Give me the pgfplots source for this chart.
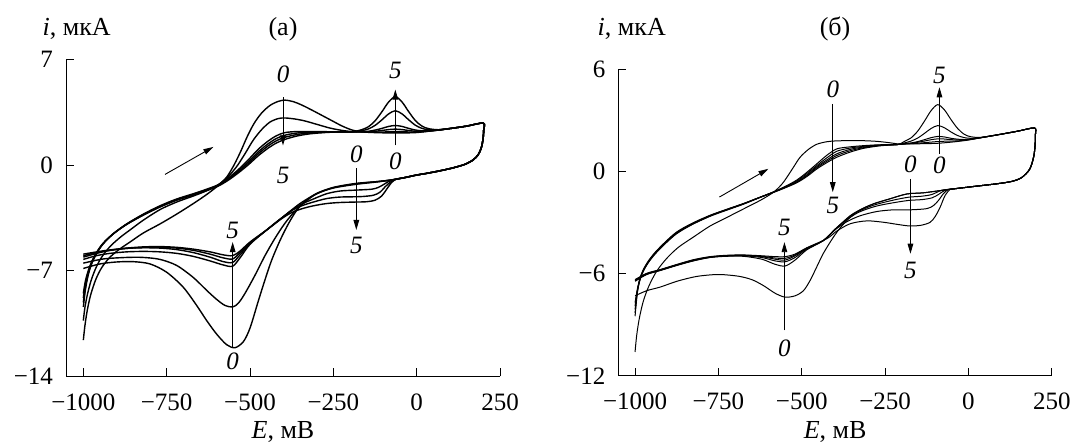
\documentclass[border=0pt]{standalone}
\usepackage{fontspec}
\setmainfont{Liberation Serif}
\usepackage{pgfplots}
\pgfplotsset{compat=1.18}
\usetikzlibrary{arrows.meta}

\pgfplotsset{
  cv/.style={
    scale only axis,
    axis x line=bottom, axis y line=left,
    axis line style={-, line width=0.5pt},
    tick align=inside,
    major tick length=4pt,
    tick style={line width=0.5pt, black},
    xtick={-1000,-750,-500,-250,0,250},
    xticklabels={−1000,−750,−500,−250,0,250},
    tick label style={font=\fontsize{12.5}{14}\selectfont},
    xticklabel style={yshift=-5pt},
    yticklabel style={xshift=-3pt},
    clip=false,
    cycle list={{black, mark=none, solid}},
    every axis plot/.append style={smooth, tension=0.5, line join=round},
  },
}
\tikzset{
  lab/.style={font=\fontsize{12.5}{14}\selectfont\itshape, inner sep=0pt},
  arr/.style={-{Triangle[length=5pt,width=2.8pt]}, line width=0.45pt},
  txt/.style={font=\fontsize{13}{15}\selectfont},
}

\begin{document}
\begin{tikzpicture}
\useasboundingbox (0,0) rectangle (536pt,221.5pt);

% ---------- (a) ----------
\begin{axis}[cv, at={(33pt,33.3pt)}, anchor=south west,
  width=217pt, height=158.5pt,
  xmin=-1052, xmax=250, ymin=-14, ymax=7,
  ytick={-14,-7,0,7}, yticklabels={−14,−7,0,7},
  every axis plot/.append style={line width=0.7pt}]

% curve 0
\addplot coordinates {(-1000,-11.6) (-995,-10.6) (-988,-9.6) (-978,-8.6) (-963,-7.6) (-945,-6.8) (-920,-6.1) (-890,-5.55) (-860,-5.1) (-820,-4.5) (-770,-3.9) (-720,-3.25) (-670,-2.55) (-630,-1.95) (-595,-1.35) (-570,-0.8) (-548,0.0) (-528,0.9) (-508,1.9) (-488,2.75) (-465,3.45) (-440,3.95) (-415,4.22) (-395,4.3) (-370,4.2) (-345,3.98) (-315,3.65) (-285,3.3) (-255,2.95) (-225,2.6) (-195,2.33) (-165,2.2) (-124,2.15) (-84,2.13) (-44,2.13) (-4,2.15) (36,2.24) (66,2.32) (100,2.42) (150,2.58)
 (200,2.78) (201,2.3) (199,1.7) (194,1.15) (185,0.7) (170,0.35) (145,0.05) (110,-0.18) (70,-0.38) (30,-0.55) (0,-0.66) (-40,-0.85)
 (-80,-1.0) (-120,-1.1) (-183,-1.22) (-250,-1.48) (-300,-1.88) (-335,-2.4) (-360,-3.0) (-385,-3.9) (-410,-5.0) (-435,-6.3) (-455,-7.6) (-475,-9.0) (-500,-10.8) (-520,-11.7) (-545,-12.1) (-570,-11.9) (-600,-11.2) (-630,-10.3) (-660,-9.3) (-700,-8.1) (-750,-7.1) (-800,-6.55) (-850,-6.4) (-900,-6.42) (-950,-6.55) (-1000,-6.85)};

% curve 1
\addplot coordinates {(-1000,-10.3) (-995,-9.4) (-987,-8.5) (-976,-7.6) (-962,-6.8) (-945,-6.1) (-920,-5.4) (-890,-4.8) (-860,-4.3) (-820,-3.65) (-770,-2.95) (-720,-2.45) (-670,-2.05) (-630,-1.7) (-595,-1.3) (-565,-0.75) (-540,-0.1) (-515,0.75) (-490,1.66) (-465,2.35) (-440,2.85) (-415,3.08) (-395,3.12) (-365,3.05) (-335,2.92) (-300,2.7) (-260,2.45) (-225,2.3) (-195,2.22) (-164,2.19) (-124,2.18) (-84,2.2) (-64,2.22) (-44,2.21) (-4,2.18) (36,2.25) (66,2.32) (100,2.42) (150,2.58)
 (200,2.78) (201,2.3) (199,1.7) (194,1.15) (185,0.7) (170,0.35) (145,0.05) (110,-0.18) (70,-0.38) (30,-0.55) (0,-0.66) (-40,-0.85)
 (-80,-1.0) (-120,-1.1) (-183,-1.24) (-250,-1.5) (-300,-1.9) (-335,-2.45) (-365,-3.05) (-395,-3.85) (-425,-4.85) (-455,-6.0) (-485,-7.3) (-515,-8.5) (-535,-9.15) (-552,-9.4) (-575,-9.3) (-600,-8.9) (-630,-8.3) (-670,-7.45) (-720,-6.65) (-770,-6.25) (-820,-6.12) (-870,-6.12) (-940,-6.22) (-1000,-6.5)};

% curve 2
\addplot coordinates {(-1000,-9.4) (-994,-8.3) (-986,-7.35) (-976,-6.6) (-960,-5.85) (-940,-5.2) (-910,-4.55) (-870,-3.9) (-820,-3.25) (-770,-2.7) (-720,-2.25) (-670,-1.9) (-630,-1.6) (-595,-1.3) (-565,-0.85) (-535,-0.3) (-505,0.35) (-475,1.05) (-445,1.6) (-420,1.95) (-395,2.15) (-360,2.22) (-320,2.22) (-270,2.21) (-225,2.2) (-194,2.2) (-164,2.2) (-144,2.2) (-124,2.24) (-104,2.29) (-84,2.35) (-64,2.38) (-44,2.35) (-24,2.29) (-4,2.24) (16,2.23) (36,2.26) (66,2.32) (100,2.42) (150,2.58)
 (200,2.78) (201,2.3) (199,1.7) (194,1.15) (185,0.7) (170,0.35) (145,0.05) (110,-0.18) (70,-0.38) (30,-0.55) (0,-0.66) (-40,-0.85)
 (-80,-1.0) (-120,-1.12) (-183,-1.28) (-250,-1.52) (-300,-1.9) (-350,-2.55) (-400,-3.42) (-450,-4.3) (-500,-5.25) (-530,-6.15) (-552,-6.7) (-580,-6.62) (-620,-6.35) (-670,-6.05) (-720,-5.85) (-770,-5.75) (-820,-5.72) (-870,-5.75) (-920,-5.85) (-960,-6.0) (-1000,-6.25)};

% curve 3
\addplot coordinates {(-1000,-9.1) (-994,-8.1) (-986,-7.25) (-976,-6.55) (-960,-5.82) (-940,-5.2) (-910,-4.55) (-870,-3.92) (-820,-3.28) (-770,-2.73) (-720,-2.28) (-670,-1.93) (-630,-1.63) (-595,-1.33) (-565,-0.9) (-535,-0.38) (-505,0.22) (-475,0.88) (-445,1.42) (-420,1.77) (-395,1.98) (-360,2.12) (-320,2.18) (-270,2.2) (-225,2.2) (-194,2.2) (-164,2.21) (-144,2.24) (-124,2.32) (-104,2.43) (-84,2.56) (-64,2.62) (-44,2.56) (-24,2.43) (-4,2.32) (16,2.27) (36,2.28) (66,2.33) (100,2.42) (150,2.58)
 (200,2.78) (201,2.3) (199,1.7) (194,1.15) (185,0.7) (170,0.35) (145,0.05) (110,-0.18) (70,-0.38) (30,-0.55) (0,-0.66) (-40,-0.85)
 (-70,-0.98) (-85,-1.1) (-100,-1.3) (-115,-1.48) (-135,-1.6) (-183,-1.66) (-230,-1.72) (-270,-1.9) (-310,-2.25) (-350,-2.65) (-400,-3.42) (-450,-4.3) (-500,-5.2) (-530,-5.95) (-552,-6.45) (-580,-6.4) (-620,-6.1) (-670,-5.8) (-720,-5.6) (-770,-5.5) (-820,-5.48) (-870,-5.52) (-920,-5.65) (-960,-5.85) (-1000,-6.1)};

% curve 4
\addplot coordinates {(-1000,-8.8) (-994,-7.9) (-986,-7.15) (-976,-6.5) (-960,-5.8) (-940,-5.18) (-910,-4.55) (-870,-3.92) (-820,-3.3) (-770,-2.76) (-720,-2.3) (-670,-1.96) (-630,-1.66) (-595,-1.36) (-565,-0.95) (-535,-0.45) (-505,0.12) (-475,0.75) (-445,1.28) (-420,1.62) (-395,1.84) (-360,2.02) (-320,2.13) (-270,2.18) (-225,2.2) (-194,2.2) (-164,2.28) (-144,2.4) (-124,2.64) (-104,3.0) (-84,3.39) (-64,3.6) (-44,3.39) (-24,3.0) (-4,2.64) (16,2.43) (36,2.34) (66,2.34) (100,2.42) (150,2.58)
 (200,2.78) (201,2.3) (199,1.7) (194,1.15) (185,0.7) (170,0.35) (145,0.05) (110,-0.18) (70,-0.38) (30,-0.55) (0,-0.66) (-40,-0.85)
 (-65,-0.95) (-80,-1.15) (-95,-1.45) (-110,-1.8) (-130,-2.0) (-160,-2.08) (-183,-2.1) (-230,-2.12) (-270,-2.22) (-310,-2.45) (-345,-2.7) (-375,-3.0) (-400,-3.42) (-450,-4.3) (-500,-5.15) (-530,-5.8) (-552,-6.22) (-580,-6.15) (-620,-5.9) (-670,-5.65) (-720,-5.5) (-770,-5.45) (-820,-5.46) (-870,-5.52) (-920,-5.65) (-960,-5.8) (-1000,-6.0)};

% curve 5
\addplot coordinates {(-1000,-8.5) (-994,-7.7) (-986,-7.05) (-976,-6.45) (-960,-5.78) (-940,-5.16) (-910,-4.55) (-870,-3.93) (-820,-3.32) (-770,-2.78) (-720,-2.33) (-670,-1.99) (-630,-1.69) (-595,-1.39) (-565,-1.0) (-535,-0.52) (-505,0.02) (-475,0.62) (-445,1.13) (-420,1.47) (-395,1.7) (-360,1.92) (-320,2.07) (-270,2.16) (-225,2.2) (-194,2.2) (-164,2.35) (-144,2.55) (-124,2.95) (-104,3.54) (-84,4.18) (-64,4.53) (-44,4.18) (-24,3.54) (-4,2.95) (16,2.58) (36,2.41) (66,2.34) (100,2.42) (150,2.58)
 (200,2.78) (201,2.3) (199,1.7) (194,1.15) (185,0.7) (170,0.35) (145,0.05) (110,-0.18) (70,-0.38) (30,-0.55) (0,-0.66) (-40,-0.85)
 (-60,-0.92) (-75,-1.15) (-90,-1.6) (-105,-2.05) (-125,-2.33) (-150,-2.43) (-183,-2.45) (-230,-2.48) (-270,-2.55) (-310,-2.7) (-345,-2.9) (-375,-3.15) (-405,-3.55) (-450,-4.3) (-500,-5.1) (-530,-5.7) (-552,-6.0) (-580,-5.95) (-620,-5.75) (-670,-5.57) (-720,-5.45) (-770,-5.4) (-820,-5.42) (-870,-5.5) (-920,-5.62) (-960,-5.75) (-1000,-5.9)};

\draw[arr] (axis cs:-401,4.5) -- (axis cs:-401,1.3);
\draw[arr] (axis cs:-64,1.3) -- (axis cs:-64,5.0);
\draw[arr] (axis cs:-181,-0.2) -- (axis cs:-181,-4.3);
\draw[arr] (axis cs:-552,-12.1) -- (axis cs:-552,-5.1);
\draw[arr] (axis cs:-755,-0.62) -- (axis cs:-610,1.2);
\node[lab] at (axis cs:-401,6.0) {0};
\node[lab] at (axis cs:-401,-0.7) {5};
\node[lab] at (axis cs:-64,6.3) {5};
\node[lab] at (axis cs:-64,0.27) {0};
\node[lab] at (axis cs:-181,0.71) {0};
\node[lab] at (axis cs:-181,-5.3) {5};
\node[lab] at (axis cs:-552,-4.3) {5};
\node[lab] at (axis cs:-552,-13.0) {0};

\node[anchor=west, txt] at (rel axis cs:-0.07,1.095) {\textit{i}, мкА};
\node[txt] at (rel axis cs:0.5,1.095) {(а)};
\node[txt] at (rel axis cs:0.5,-0.176) {\textit{E}, мВ};
\end{axis}

% ---------- (b) ----------
\begin{axis}[cv, at={(309.2pt,33.6pt)}, anchor=south west,
  width=216.7pt, height=153.2pt,
  xmin=-1050, xmax=250, ymin=-12, ymax=6,
  ytick={-12,-6,0,6}, yticklabels={−12,−6,0,6},
  every axis plot/.append style={line width=0.5pt}]

% curve 0
\addplot coordinates {(-1000,-10.6) (-995,-9.6) (-987,-8.6) (-975,-7.6) (-958,-6.7) (-935,-5.85) (-905,-5.1) (-870,-4.45) (-825,-3.85) (-775,-3.2) (-725,-2.7) (-675,-2.2) (-625,-1.7) (-585,-1.22) (-560,-0.75) (-545,-0.35) (-525,0.25) (-505,0.84) (-480,1.3) (-455,1.6) (-425,1.75) (-395,1.8) (-335,1.82) (-280,1.78) (-240,1.7) (-210,1.62) (-185,1.62) (-150,1.63) (-92,1.66) (-40,1.75) (0,1.85) (35,1.98) (100,2.2) (150,2.38)
 (198,2.56) (201,2.2) (200,1.6) (196,0.9) (184,0.15) (160,-0.35) (130,-0.58) (85,-0.72) (15,-0.88) (-45,-1.02)
 (-85,-1.12) (-135,-1.25) (-185,-1.32) (-235,-1.6) (-285,-1.9) (-325,-2.25) (-355,-2.7) (-380,-3.2) (-405,-3.85) (-435,-4.8) (-455,-5.6) (-475,-6.4) (-495,-7.0) (-520,-7.3) (-550,-7.38) (-580,-7.15) (-615,-6.7) (-650,-6.35) (-690,-6.15) (-745,-6.05) (-790,-6.1) (-825,-6.2) (-875,-6.45) (-925,-6.79) (-965,-7.0) (-1000,-7.3)};

% curve 1
\addplot coordinates {(-1000,-8.5) (-993,-7.1) (-985,-6.35) (-975,-5.85) (-960,-5.35) (-940,-4.85) (-910,-4.25) (-875,-3.65) (-830,-3.13) (-775,-2.63) (-725,-2.27) (-675,-1.92) (-630,-1.56) (-585,-1.2) (-550,-0.88) (-515,-0.5) (-485,-0.05) (-455,0.45) (-425,0.95) (-395,1.33) (-355,1.45) (-315,1.52) (-270,1.57) (-240,1.58) (-210,1.59) (-185,1.62) (-152,1.66) (-112,1.73) (-92,1.76) (-72,1.78) (-32,1.8) (8,1.89) (38,1.99) (100,2.2) (150,2.38)
 (198,2.56) (201,2.2) (200,1.6) (196,0.9) (184,0.15) (160,-0.35) (130,-0.58) (85,-0.72) (15,-0.88) (-45,-1.02)
 (-85,-1.12) (-135,-1.25) (-185,-1.32) (-235,-1.6) (-285,-1.9) (-325,-2.25) (-355,-2.6) (-395,-3.3) (-435,-4.05) (-485,-4.6) (-520,-5.2) (-550,-5.55) (-580,-5.45) (-620,-5.15) (-675,-4.98) (-725,-4.98) (-775,-5.05) (-825,-5.25) (-875,-5.52) (-925,-5.82) (-965,-6.05) (-1000,-6.45)};

% curve 2
\addplot coordinates {(-1000,-8.3) (-993,-7.05) (-985,-6.32) (-975,-5.82) (-960,-5.32) (-940,-4.82) (-910,-4.22) (-875,-3.62) (-830,-3.11) (-775,-2.61) (-725,-2.25) (-675,-1.9) (-630,-1.55) (-585,-1.2) (-550,-0.9) (-515,-0.55) (-485,-0.12) (-455,0.35) (-425,0.8) (-395,1.19) (-355,1.38) (-315,1.48) (-270,1.55) (-240,1.57) (-210,1.59) (-192,1.63) (-172,1.66) (-152,1.72) (-132,1.79) (-112,1.87) (-92,1.92) (-72,1.91) (-52,1.87) (-32,1.86) (-12,1.86) (8,1.9) (38,1.99) (100,2.2) (150,2.38)
 (198,2.56) (201,2.2) (200,1.6) (196,0.9) (184,0.15) (160,-0.35) (130,-0.58) (85,-0.72) (15,-0.88) (-45,-1.02)
 (-80,-1.1) (-110,-1.35) (-140,-1.45) (-180,-1.51) (-230,-1.7) (-285,-1.98) (-325,-2.3) (-355,-2.62) (-395,-3.32) (-435,-4.05) (-485,-4.55) (-520,-5.05) (-550,-5.3) (-580,-5.25) (-620,-5.05) (-675,-4.95) (-725,-4.96) (-775,-5.04) (-825,-5.24) (-875,-5.5) (-925,-5.8) (-965,-6.03) (-1000,-6.42)};

% curve 3
\addplot coordinates {(-1000,-8.1) (-993,-7.0) (-985,-6.3) (-975,-5.8) (-960,-5.3) (-940,-4.8) (-910,-4.2) (-875,-3.6) (-830,-3.1) (-775,-2.6) (-725,-2.24) (-675,-1.9) (-630,-1.55) (-585,-1.21) (-550,-0.92) (-515,-0.6) (-485,-0.2) (-455,0.28) (-425,0.68) (-395,1.04) (-355,1.3) (-315,1.44) (-270,1.53) (-240,1.56) (-210,1.59) (-192,1.64) (-172,1.68) (-152,1.76) (-132,1.87) (-112,1.99) (-92,2.06) (-72,2.03) (-52,1.95) (-32,1.9) (-12,1.88) (8,1.91) (38,1.99) (100,2.2) (150,2.38)
 (198,2.56) (201,2.2) (200,1.6) (196,0.9) (184,0.15) (160,-0.35) (130,-0.58) (85,-0.72) (15,-0.88) (-45,-1.02)
 (-70,-1.1) (-90,-1.35) (-110,-1.55) (-140,-1.65) (-180,-1.7) (-230,-1.85) (-280,-2.05) (-330,-2.4) (-370,-2.9) (-400,-3.38) (-435,-4.05) (-485,-4.52) (-520,-4.95) (-550,-5.2) (-580,-5.15) (-620,-5.0) (-675,-4.93) (-725,-4.95) (-775,-5.03) (-825,-5.22) (-875,-5.5) (-925,-5.8) (-965,-6.02) (-1000,-6.4)};

% curve 4
\addplot coordinates {(-1000,-7.9) (-993,-6.95) (-985,-6.28) (-975,-5.78) (-960,-5.28) (-940,-4.78) (-910,-4.18) (-875,-3.58) (-830,-3.08) (-775,-2.59) (-725,-2.23) (-675,-1.89) (-630,-1.55) (-585,-1.22) (-550,-0.94) (-515,-0.63) (-485,-0.25) (-455,0.22) (-425,0.6) (-395,0.94) (-355,1.22) (-315,1.4) (-270,1.52) (-240,1.56) (-210,1.59) (-192,1.68) (-172,1.79) (-152,1.97) (-132,2.24) (-112,2.53) (-92,2.7) (-72,2.57) (-52,2.32) (-32,2.11) (-12,1.99) (8,1.95) (38,2.0) (100,2.2) (150,2.38)
 (198,2.56) (201,2.2) (200,1.6) (196,0.9) (184,0.15) (160,-0.35) (130,-0.58) (85,-0.72) (15,-0.88) (-45,-1.02)
 (-60,-1.05) (-75,-1.3) (-90,-1.7) (-105,-2.0) (-125,-2.18) (-175,-2.25) (-225,-2.25) (-275,-2.35) (-325,-2.6) (-365,-2.95) (-400,-3.42) (-435,-4.05) (-485,-4.5) (-520,-4.9) (-550,-5.1) (-580,-5.08) (-620,-4.98) (-675,-4.92) (-725,-4.94) (-775,-5.02) (-825,-5.2) (-875,-5.48) (-925,-5.78) (-965,-6.0) (-1000,-6.38)};

% curve 5
\addplot coordinates {(-1000,-7.7) (-993,-6.9) (-985,-6.25) (-975,-5.75) (-960,-5.25) (-940,-4.75) (-910,-4.15) (-875,-3.55) (-830,-3.05) (-775,-2.57) (-725,-2.22) (-675,-1.88) (-630,-1.55) (-585,-1.23) (-550,-0.96) (-515,-0.66) (-485,-0.3) (-455,0.15) (-425,0.52) (-395,0.84) (-355,1.14) (-315,1.36) (-270,1.5) (-240,1.55) (-210,1.59) (-192,1.77) (-172,1.98) (-152,2.38) (-132,2.96) (-112,3.58) (-92,3.93) (-72,3.62) (-52,3.04) (-32,2.52) (-12,2.18) (8,2.04) (38,2.01) (100,2.2) (150,2.38)
 (198,2.56) (201,2.2) (200,1.6) (196,0.9) (184,0.15) (160,-0.35) (130,-0.58) (85,-0.72) (15,-0.88) (-45,-1.02)
 (-55,-1.05) (-70,-1.4) (-85,-2.1) (-100,-2.65) (-115,-2.98) (-140,-3.15) (-175,-3.2) (-215,-3.1) (-255,-2.98) (-305,-2.9) (-355,-3.07) (-395,-3.5) (-425,-3.95) (-485,-4.48) (-520,-4.85) (-550,-5.0) (-580,-5.0) (-620,-4.95) (-675,-4.9) (-725,-4.92) (-775,-5.0) (-825,-5.18) (-875,-5.46) (-925,-5.76) (-965,-5.98) (-1000,-6.35)};

\draw[arr] (axis cs:-407,3.97) -- (axis cs:-407,-1.21);
\draw[arr] (axis cs:-87,1.04) -- (axis cs:-87,4.95);
\draw[arr] (axis cs:-174,-0.43) -- (axis cs:-174,-4.83);
\draw[arr] (axis cs:-552,-9.33) -- (axis cs:-552,-4.15);
\draw[arr] (axis cs:-747,-1.5) -- (axis cs:-600,0.16);
\node[lab] at (axis cs:-407,4.85) {0};
\node[lab] at (axis cs:-407,-2.0) {5};
\node[lab] at (axis cs:-87,5.64) {5};
\node[lab] at (axis cs:-87,0.35) {0};
\node[lab] at (axis cs:-174,0.45) {0};
\node[lab] at (axis cs:-174,-5.81) {5};
\node[lab] at (axis cs:-552,-3.27) {5};
\node[lab] at (axis cs:-552,-10.41) {0};

\node[anchor=west, txt] at (rel axis cs:-0.064,1.132) {\textit{i}, мкА};
\node[txt] at (rel axis cs:0.5,1.132) {(б)};
\node[txt] at (rel axis cs:0.5,-0.182) {\textit{E}, мВ};
\end{axis}
\end{tikzpicture}
\end{document}
